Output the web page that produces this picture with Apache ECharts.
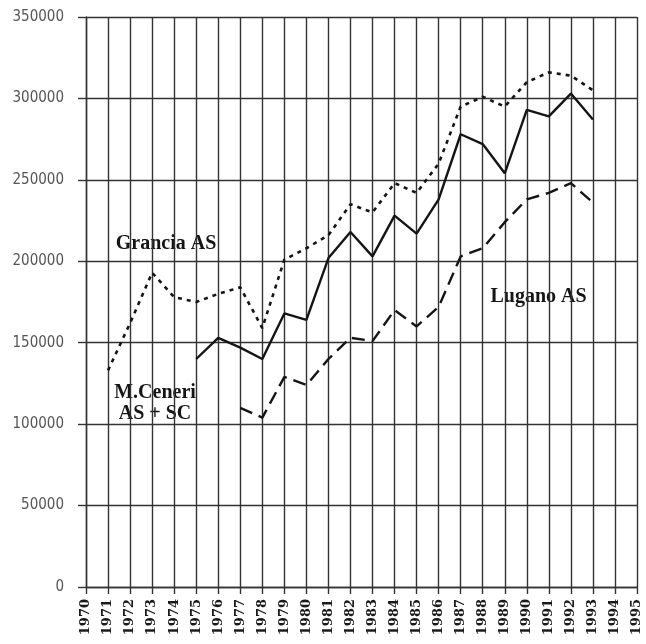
<!DOCTYPE html>
<html>
<head>
<meta charset="utf-8">
<script src="https://cdn.jsdelivr.net/npm/echarts@6/dist/echarts.min.js"></script>
<style>
  html, body { margin: 0; padding: 0; background: #fff; }
  #chart { width: 646px; height: 644px; }
</style>
</head>
<body>
<div id="chart"></div>
<script>
// years on the x axis
const years = []
for (let y = 1970; y <= 1995; y++) years.push(String(y))

// values, null where the series has no point
const granciaAS = [null, 133000, 162000, 193000, 178000, 175000, 180000, 184000, 159000, 201000, 208000, 216000,
  235000, 230000, 248000, 242000, 260000, 295000, 301000, 295000, 310000, 316000, 314000, 305000, null, null]
const ceneriASSC = [null, null, null, null, null, 140000, 153000, 147000, 140000, 168000, 164000, 202000,
  218000, 203000, 228000, 217000, 238000, 278000, 272000, 254000, 293000, 289000, 303000, 287000, null, null]
const luganoAS = [null, null, null, null, null, null, null, 110000, 104000, 129000, 124000, 140000,
  153000, 151000, 170000, 160000, 172000, 203000, 208000, 224000, 238000, 242000, 248000, 236000, null, null]

const yMax = 350000
const yStep = 50000

const chart = echarts.init(document.getElementById('chart'))

const ink = '#151515'
const gridInk = '#333'

// white boxes behind the series names (they hide the grid in the scan)
const labelBox = (left, top, width, height, text, lineHeight) => ({
  type: 'group',
  left: left,
  top: top,
  z: 100,
  children: [
    { type: 'rect', shape: { x: 0, y: 0, width: width, height: height }, style: { fill: '#fff' } },
    {
      type: 'text',
      x: width / 2,
      y: height / 2,
      style: {
        text: text,
        fill: ink,
        font: 'bold 20px "Liberation Serif", "Times New Roman", serif',
        align: 'center',
        verticalAlign: 'middle',
        lineHeight: lineHeight || 20
      }
    }
  ]
})

const option = {
  backgroundColor: '#fff',
  animation: false,
  grid: { left: 86, right: 9, top: 17, bottom: 57 },
  xAxis: {
    type: 'category',
    data: years,
    boundaryGap: false,
    axisLine: { lineStyle: { color: gridInk, width: 1.4 } },
    axisTick: { show: true, length: 7, lineStyle: { color: gridInk, width: 1.4 } },
    axisLabel: {
      interval: 0,
      rotate: 90,
      margin: 12,
      color: '#1a1a1a',
      fontFamily: '"DejaVu Serif", serif',
      fontWeight: 'bold',
      fontSize: 13
    },
    splitLine: { show: true, lineStyle: { color: gridInk, width: 1.4 } }
  },
  yAxis: {
    type: 'value',
    min: 0,
    max: yMax,
    interval: yStep,
    axisLine: { show: true, lineStyle: { color: gridInk, width: 1.4 } },
    axisTick: { show: true, length: 8, lineStyle: { color: gridInk, width: 1.4 } },
    axisLabel: {
      margin: 22,
      color: '#555',
      fontFamily: '"DejaVu Sans Condensed", "DejaVu Sans", sans-serif',
      fontSize: 15,
      formatter: (v) => String(v)
    },
    splitLine: { show: true, lineStyle: { color: gridInk, width: 1.4 } }
  },
  series: [
    {
      name: 'Grancia AS',
      type: 'line',
      data: granciaAS,
      showSymbol: false,
      connectNulls: false,
      lineStyle: { color: ink, width: 2.6, type: [4, 5] },
      z: 5
    },
    {
      name: 'M.Ceneri AS + SC',
      type: 'line',
      data: ceneriASSC,
      showSymbol: false,
      connectNulls: false,
      lineStyle: { color: ink, width: 2.4, type: 'solid' },
      z: 5
    },
    {
      name: 'Lugano AS',
      type: 'line',
      data: luganoAS,
      showSymbol: false,
      connectNulls: false,
      lineStyle: { color: ink, width: 2.4, type: [13, 7] },
      z: 5
    }
  ],
  graphic: [
    labelBox(104, 229, 124, 29, 'Grancia AS'),
    labelBox(103, 377, 104, 53, 'M.Ceneri\nAS + SC', 21),
    labelBox(474, 282, 129, 30, 'Lugano AS')
  ]
}

chart.setOption(option)
</script>
</body>
</html>
